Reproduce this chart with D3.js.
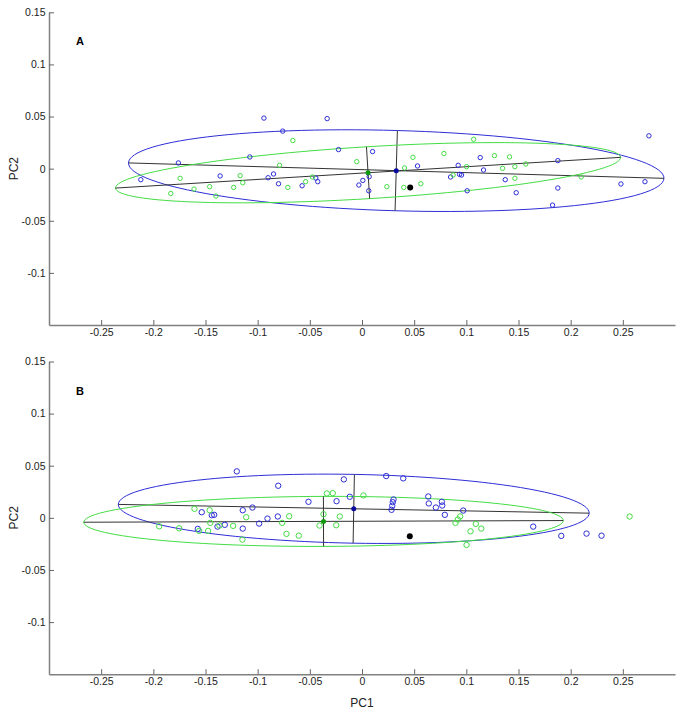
<!DOCTYPE html>
<html>
<head>
<meta charset="utf-8">
<script src="https://cdn.jsdelivr.net/npm/d3@7"></script>
<style>
  body { margin: 0; background: #fff; }
  text { font-family: "Liberation Sans", Arial, sans-serif; }
</style>
</head>
<body>
<div id="chart"></div>
<script>
// PCA scores, two panels (A, B), groups: blue and green

const xTicks = [-0.25, -0.2, -0.15, -0.1, -0.05, 0, 0.05, 0.1, 0.15, 0.2, 0.25];
const yTicks = [-0.1, -0.05, 0, 0.05, 0.1, 0.15];
const panelNames = ["A", "B"];

// panel A scores
const aBlue = [[-0.094,0.0485],[-0.0334,0.048],[-0.076,0.036],[-0.0225,0.0183],[-0.1075,0.0112],[-0.176,0.0055],
  [-0.212,-0.0106],[-0.136,-0.007],[-0.090,-0.0087],[-0.0848,-0.0051],[-0.080,-0.0145],[-0.0574,-0.0164],
  [-0.0443,-0.009],[-0.0424,-0.0125],[-0.003,-0.0157],[0.0008,-0.0113],[0.0065,-0.0212],[0.0101,0.0164],
  [0.0069,-0.0077],[0.0532,0.0026],[0.0922,0.0032],[0.0849,-0.008],[0.0935,-0.0055],[0.0954,-0.0061],
  [0.1008,-0.0212],[0.1133,0.0106],[0.1165,-0.0013],[0.1373,-0.0106],[0.1478,-0.0231],[0.1877,0.0077],
  [0.1877,-0.0186],[0.1826,-0.035],[0.2482,-0.0147],[0.2712,-0.0125],[0.275,0.0315]];
const aGreen = [[-0.0663,0.027],[-0.079,0.0032],[-0.005,0.0067],[-0.1743,-0.0093],[-0.1833,-0.0238],[-0.161,-0.0196],
  [-0.146,-0.0173],[-0.140,-0.0263],[-0.123,-0.018],[-0.1168,-0.0067],[-0.1143,-0.0135],[-0.0711,-0.018],
  [-0.054,-0.0125],[-0.0475,-0.008],[0.107,0.0282],[0.0785,0.0145],[0.0488,0.0109],[0.0408,0.0007],
  [0.0238,-0.0173],[0.040,-0.018],[0.0564,-0.0145],[0.1002,0.0019],[0.0874,-0.0061],[0.127,0.0125],
  [0.1414,0.0113],[0.1465,0.0019],[0.1347,0.0003],[0.157,0.0045],[0.1465,-0.0093],[0.2101,-0.008]];

// panel B scores
const bBlue = [[-0.12,0.0446],[-0.0803,0.0308],[-0.0174,0.0369],[-0.0244,0.016],[-0.0117,0.0202],[-0.0513,0.0154],
  [-0.1536,0.0054],[-0.144,0.0025],[-0.1417,0.0029],[-0.1143,0.0073],[-0.105,0.0099],[-0.1574,-0.0106],
  [-0.1385,-0.0084],[-0.1315,-0.0067],[-0.1143,-0.0103],[-0.0986,-0.0055],[-0.0906,-0.0007],[-0.0807,0.0013],
  [0.0232,0.0401],[0.0395,0.0379],[0.0302,0.0176],[0.0295,0.015],[0.029,0.0116],[0.0283,0.0077],
  [0.0635,0.0205],[0.064,0.0138],[0.0708,0.0099],[0.0765,0.0154],[0.0769,0.0118],[0.0794,0.0029],
  [0.097,0.007],[0.1641,-0.0084],[0.191,-0.0173],[0.2152,-0.0151],[0.2296,-0.0171]];
const bGreen = [[-0.1606,0.0087],[-0.146,0.0073],[-0.1454,-0.0048],[-0.1944,-0.0081],[-0.1753,-0.01],[-0.1561,-0.0125],
  [-0.1475,-0.0125],[-0.1366,-0.0074],[-0.1235,-0.0077],[-0.111,0.0006],[-0.1146,-0.0209],[-0.0765,-0.0048],
  [-0.0698,0.0015],[-0.0724,-0.0154],[-0.0606,-0.0171],[-0.0407,-0.0074],[-0.0369,0.0035],[-0.0337,0.0234],
  [-0.028,0.0237],[-0.0213,0.0013],[-0.0247,-0.0071],[0.0014,0.0215],[0.0941,0.0013],[0.0919,-0.0016],
  [0.0896,-0.0048],[0.1091,-0.0058],[0.1143,-0.0103],[0.104,-0.0129],[0.1002,-0.026],[0.2565,0.0013]];

// group ellipses (blue, green): centre, semi axes, slope of major axis
const aCentres = [[0.0328,-0.0019],[0.0058,-0.0039]];
const aSemiMajor = [0.2567, 0.2425];
const aSemiMinor = [0.0385, 0.0249];
const aSlope = [-0.0288, 0.0609];
const bCentres = [[-0.0079,0.0087],[-0.0369,-0.0034]];
const bSemiMajor = [0.2257, 0.2298];
const bSemiMinor = [0.033, 0.024];
const bSlope = [-0.0186, 0.0035];

// reference sample (black dot)
const refA = [0.0462, -0.018];
const refB = [0.0458, -0.0177];

const width = 683, height = 715;
const groupColors = ["#2e2ed6", "#44dd44"];
const meanColors = ["#0a0aa0", "#0d9a0d"];

const svg = d3.select("#chart").append("svg")
  .attr("width", width).attr("height", height);

const x = d3.scaleLinear().domain([-0.3, 0.3]).range([49, 675]);

const panels = [
  { top: 12.3, pts: [aBlue, aGreen], centres: aCentres, a: aSemiMajor, b: aSemiMinor, slope: aSlope, ref: refA },
  { top: 361.5, pts: [bBlue, bGreen], centres: bCentres, a: bSemiMajor, b: bSemiMinor, slope: bSlope, ref: refB }
];
const plotH = 312.7;

panels.forEach((p, i) => {
  const y = d3.scaleLinear().domain([-0.15, 0.15]).range([p.top + plotH, p.top]);
  const g = svg.append("g");

  // axes, ticks pointing inward
  const xAxis = g.append("g")
    .attr("transform", `translate(0,${p.top + plotH})`)
    .call(d3.axisBottom(x).tickValues(xTicks).tickSizeInner(-5).tickSizeOuter(0)
      .tickPadding(3.5).tickFormat(d => String(d)));
  const yAxis = g.append("g")
    .attr("transform", `translate(49,0)`)
    .call(d3.axisLeft(y).tickValues(yTicks).tickSizeInner(-5).tickSizeOuter(0)
      .tickPadding(3.5).tickFormat(d => String(d)));
  [xAxis, yAxis].forEach(ax => {
    ax.select(".domain").attr("stroke", "#808080").attr("stroke-width", 1.5);
    ax.selectAll(".tick line").attr("stroke", "#666").attr("stroke-width", 1);
    ax.selectAll(".tick text").attr("fill", "#222").style("font-size", "10.5px");
  });

  // axis titles
  g.append("text")
    .attr("transform", `translate(18,${y(0)}) rotate(-90)`)
    .attr("text-anchor", "middle")
    .style("font-size", "12px").attr("fill", "#222")
    .text("PC2");
  if (i === 1) {
    g.append("text")
      .attr("x", x(0)).attr("y", 707)
      .attr("text-anchor", "middle")
      .style("font-size", "12px").attr("fill", "#222")
      .text("PC1");
  }

  g.append("text")
    .attr("x", 76).attr("y", p.top + 33)
    .style("font-size", "11px").style("font-weight", "bold")
    .text(panelNames[i]);

  const line = d3.line().x(d => x(d[0])).y(d => y(d[1]));

  // ellipses + principal axes
  p.centres.forEach((c, k) => {
    const th = Math.atan(p.slope[k]);
    const ca = Math.cos(th), sa = Math.sin(th);
    const A = p.a[k], B = p.b[k];
    const ring = d3.range(0, 361, 3).map(t => {
      const r = t * Math.PI / 180;
      return [c[0] + A * ca * Math.cos(r) - B * sa * Math.sin(r),
              c[1] + A * sa * Math.cos(r) + B * ca * Math.sin(r)];
    });
    g.append("path")
      .attr("d", line(ring))
      .attr("fill", "none")
      .attr("stroke", groupColors[k])
      .attr("stroke-width", 1);
    g.append("path")
      .attr("d", line([[c[0] - A * ca, c[1] - A * sa], [c[0] + A * ca, c[1] + A * sa]]))
      .attr("stroke", "#333").attr("stroke-width", 1);
    g.append("path")
      .attr("d", line([[c[0] + B * sa, c[1] - B * ca], [c[0] - B * sa, c[1] + B * ca]]))
      .attr("stroke", "#333").attr("stroke-width", 1);
  });

  // scores
  p.pts.forEach((pts, k) => {
    g.append("g").selectAll("circle")
      .data(pts)
      .join("circle")
      .attr("cx", d => x(d[0]))
      .attr("cy", d => y(d[1]))
      .attr("r", i === 0 ? 2.2 : 2.7)
      .attr("fill", "none")
      .attr("stroke", groupColors[k])
      .attr("stroke-width", 1);
  });

  // group means
  g.append("g").selectAll("circle")
    .data(p.centres)
    .join("circle")
    .attr("cx", d => x(d[0]))
    .attr("cy", d => y(d[1]))
    .attr("r", 2.5)
    .attr("fill", (d, k) => meanColors[k]);

  g.append("circle")
    .attr("cx", x(p.ref[0])).attr("cy", y(p.ref[1]))
    .attr("r", 3).attr("fill", "#000");
});
</script>
</body>
</html>
